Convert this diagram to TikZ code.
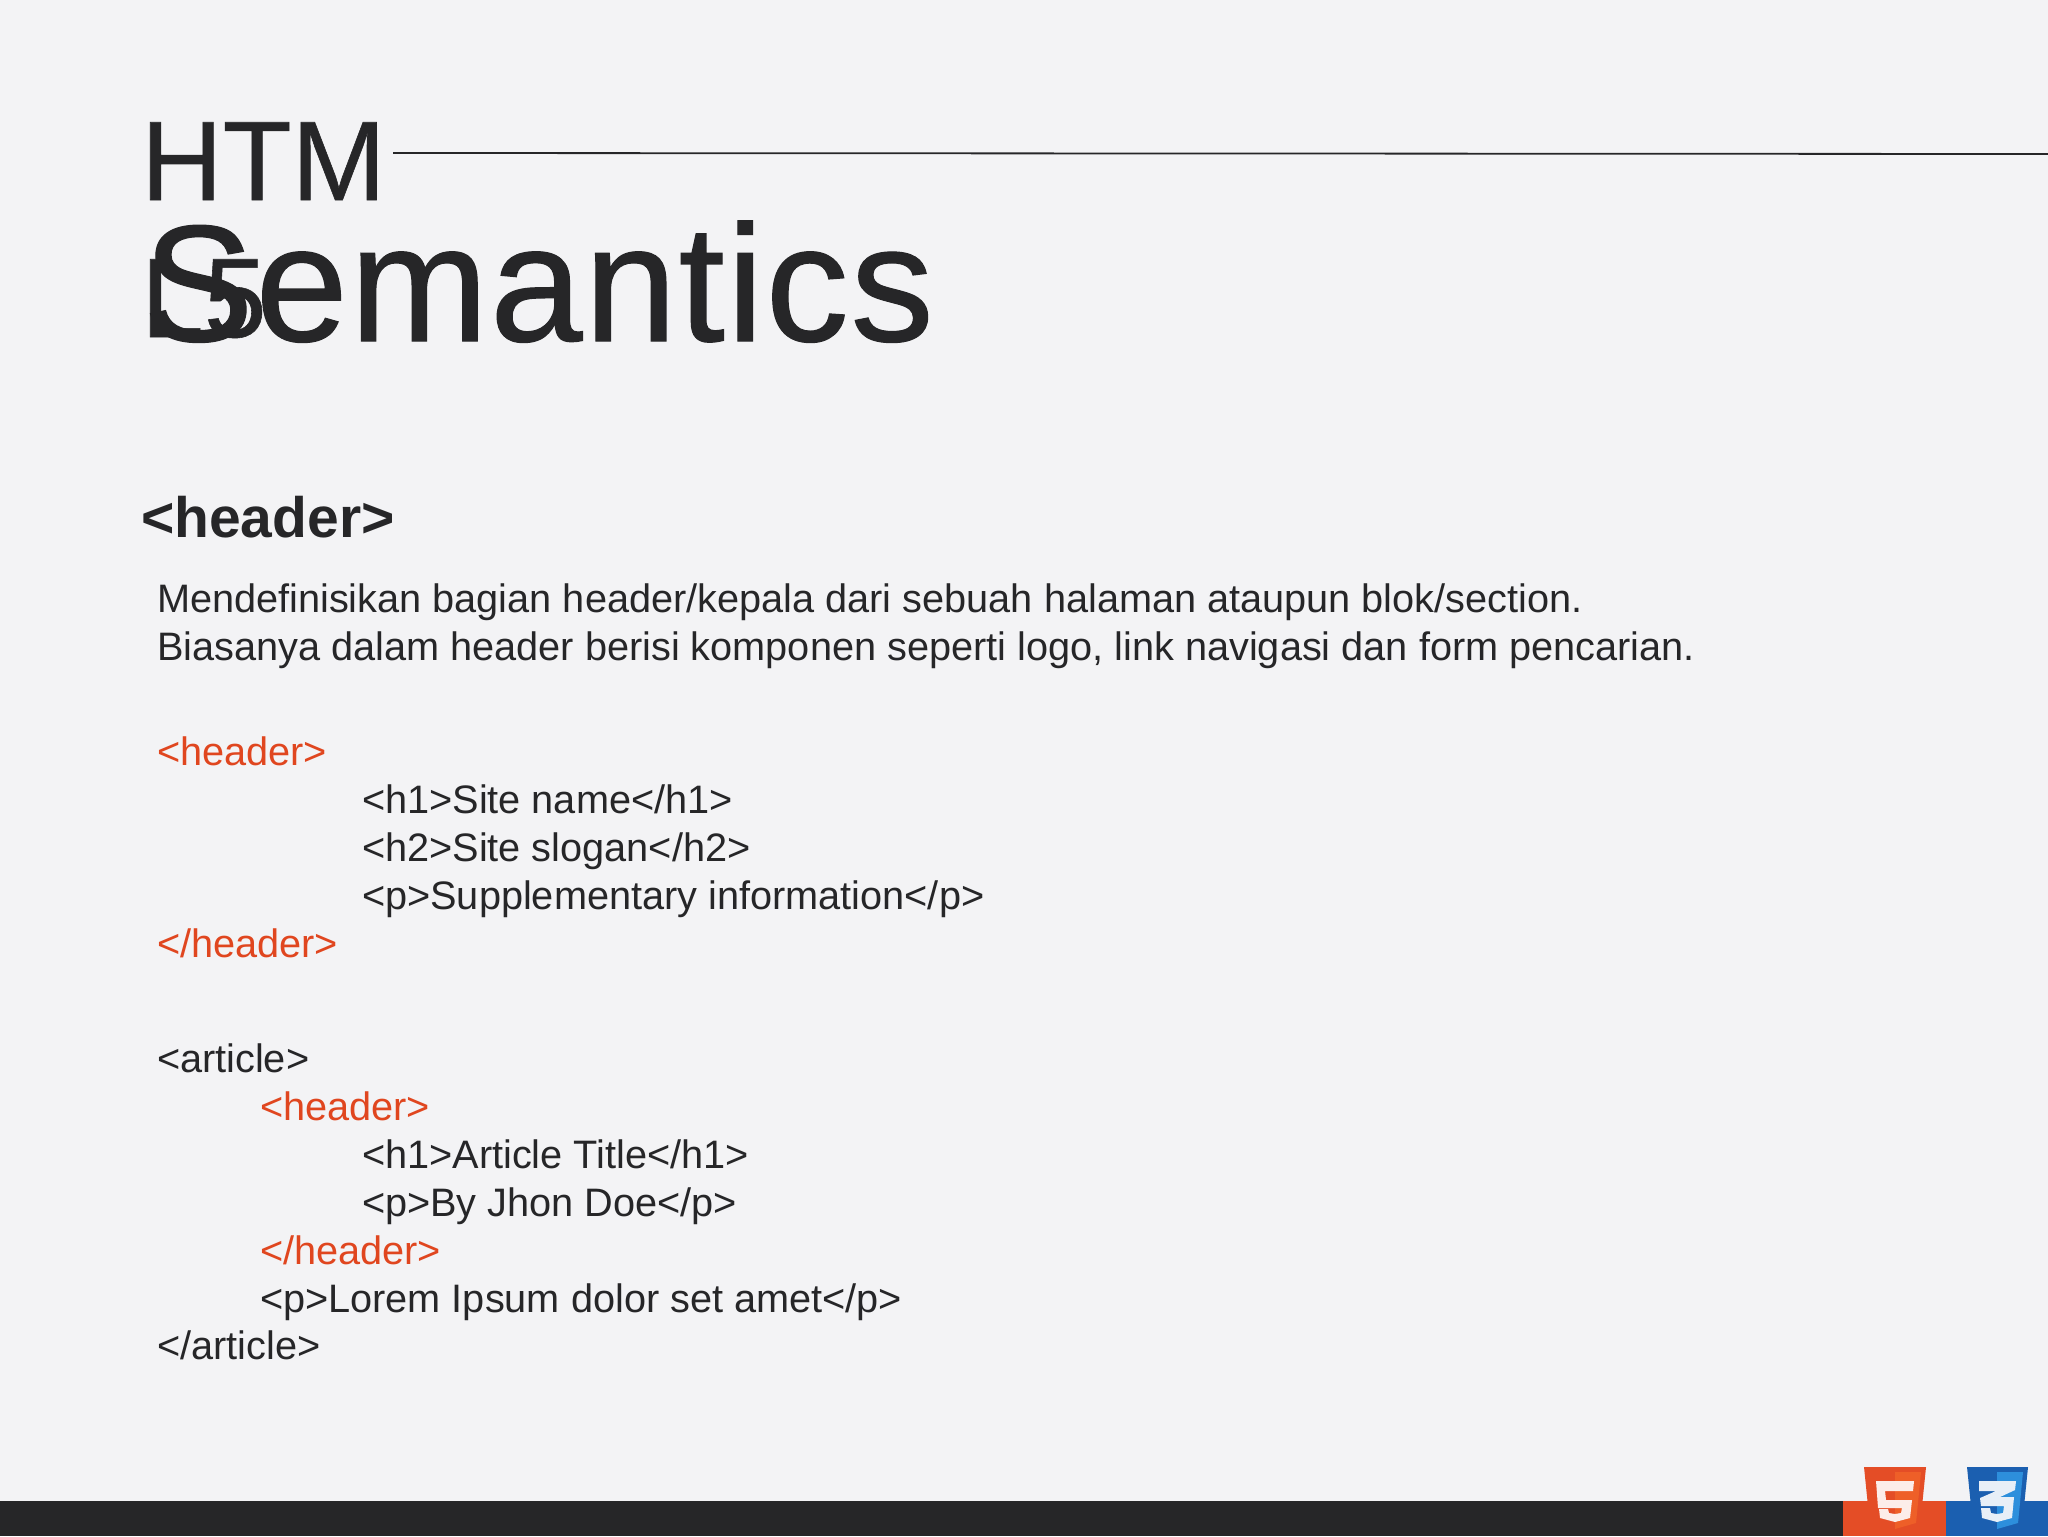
\documentclass[tikz,border=0pt]{standalone}
\usepackage{fontspec}
\setmainfont{Liberation Sans}
\newfontfamily\titleAfont[FakeBold=0.5]{Liberation Sans}
\newfontfamily\titleBfont[FakeBold=0.7,LetterSpace=1.2]{Liberation Sans}
\definecolor{bgc}{HTML}{F3F3F5}
\definecolor{ink}{HTML}{262628}
\definecolor{tagc}{HTML}{E0461F}
\definecolor{orb}{HTML}{E44D26}
\definecolor{orl}{HTML}{EE5F28}
\definecolor{blb}{HTML}{1B5FB0}
\definecolor{bll}{HTML}{2D8FDC}
\newcommand{\fsz}[1]{\fontsize{#1}{#1}\selectfont}
\tikzset{
  x=0.5pt,y=-0.5pt,
  txt/.style={anchor=base west,inner sep=0pt,outer sep=0pt,text=ink},
  bodytxt/.style={txt,font=\fsz{19.85}},
  tagtxt/.style={bodytxt,text=tagc},
  titleA/.style={txt,font=\titleAfont\fsz{56.5}},
  titleB/.style={txt,font=\titleBfont\fsz{83}},
  headtxt/.style={txt,font=\fsz{28.5}\bfseries},
}
\begin{document}
\begin{tikzpicture}
\useasboundingbox (0,0) rectangle (2048,1536);
\fill[bgc] (0,0) rectangle (2048,1536);
\fill[ink] (0,1501) rectangle (2048,1536);
\fill[orb] (1843,1501) rectangle (1946,1536);
\fill[blb] (1946,1501) rectangle (2048,1536);
% logos
\fill[orb] (1864,1467) -- (1926,1467) -- (1920,1526) -- (1895,1533) -- (1870,1526) -- cycle;
\fill[orl] (1895,1472) -- (1921,1472) -- (1916,1523) -- (1895,1529) -- cycle;
\fill[white!90!orb] (1876,1481) -- (1914,1481) -- (1913,1491) -- (1885,1491) -- (1886,1500) -- (1912,1500) -- (1910,1518) -- (1895,1522) -- (1880,1518) -- (1879,1509) -- (1888,1509) -- (1889,1513) -- (1895,1514) -- (1901,1513) -- (1902,1508) -- (1878,1508) -- cycle;
\fill[blb] (1967,1467) -- (2028,1467) -- (2022,1526) -- (1997,1533) -- (1973,1526) -- cycle;
\fill[bll] (1997,1472) -- (2023,1472) -- (2018,1523) -- (1997,1529) -- cycle;
\fill[white!90!blb] (1979,1481) -- (2016,1481) -- (2015,1490) -- (2000,1497) -- (2014,1497) -- (2012,1518) -- (1997,1522) -- (1982,1518) -- (1981,1508) -- (1990,1508) -- (1991,1513) -- (1997,1514) -- (2003,1513) -- (2004,1506) -- (1981,1506) -- (1980,1498) -- (1996,1491) -- (1979,1491) -- cycle;
% titles
\node[titleA] (t1) at (141,200) {HTM};
\node[titleA] (t2) at (141,337) {L5};
\node[titleB] (t3) at (143,341) {Semantics};
\coordinate (ruleA) at (393,153);
\coordinate (ruleB) at (2048,154);
\draw[ink,line width=0.9pt] (ruleA) -- (ruleB);
% text
\node[headtxt] (h) at (141,537) {<header>};
\node[bodytxt] (l1) at (157,612.5) {Mendefinisikan bagian header/kepala dari sebuah halaman ataupun blok/section.};
\node[bodytxt] (l2) at (157,660.5) {Biasanya dalam header berisi komponen seperti logo, link navigasi dan form pencarian.};
\node[tagtxt] (c1) at (157,765.5) {<header>};
\node[bodytxt] (c2) at (362,813.5) {<h1>Site name</h1>};
\node[bodytxt] (c3) at (362,861.5) {<h2>Site slogan</h2>};
\node[bodytxt] (c4) at (362,909.5) {<p>Supplementary information</p>};
\node[tagtxt] (c5) at (157,957.5) {</header>};
\node[bodytxt] (d1) at (157,1072) {<article>};
\node[tagtxt] (d2) at (260,1120) {<header>};
\node[bodytxt] (d3) at (362,1168) {<h1>Article Title</h1>};
\node[bodytxt] (d4) at (362,1216) {<p>By Jhon Doe</p>};
\node[tagtxt] (d5) at (260,1264) {</header>};
\node[bodytxt] (d6) at (260,1312) {<p>Lorem Ipsum dolor set amet</p>};
\node[bodytxt] (d7) at (157,1359.5) {</article>};
\end{tikzpicture}
\end{document}
